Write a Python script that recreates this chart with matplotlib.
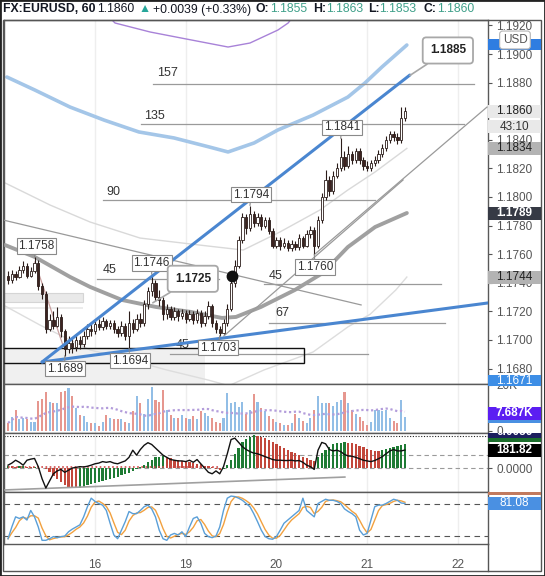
import numpy as np
import pandas as pd
import matplotlib
matplotlib.use("Agg")
import matplotlib.pyplot as plt
from matplotlib.patches import Rectangle
from matplotlib.lines import Line2D
from matplotlib.transforms import Bbox, TransformedBbox, blended_transform_factory

plt.rcParams["font.family"] = ["Liberation Sans", "DejaVu Sans"]
plt.rcParams["font.size"] = 8.5

W, H = 545, 576

# hourly bars, bar 0 = 16th 00:00 (weekend hours removed)
first_bar = -23
first_open = 1.1745
prev_close = 1.1821

closes = [
    1.1742, 1.1746, 1.1744, 1.1749, 1.1752, 1.1745, 1.1748, 1.1754,
    1.1738, 1.1732, 1.1708, 1.1714, 1.1710, 1.1716, 1.1706, 1.1694,
    1.1698, 1.1695, 1.1700, 1.1697, 1.1703, 1.1708, 1.1706, 1.1711,
    1.1709, 1.1713, 1.1710, 1.1712, 1.1708, 1.1705, 1.1710, 1.1703,
    1.1712, 1.1708, 1.1715, 1.1712, 1.1725, 1.1734, 1.1740, 1.1730,
    1.1728, 1.1718, 1.1722, 1.1716, 1.1720, 1.1717, 1.1719, 1.1715,
    1.1718, 1.1714, 1.1719, 1.1712, 1.1717, 1.1724, 1.1712, 1.1708,
    1.1705, 1.1712, 1.1722, 1.1740, 1.1752, 1.1770, 1.1786, 1.1778,
    1.1788, 1.1782, 1.1786, 1.1780, 1.1784, 1.1776, 1.1766, 1.1770,
    1.1766, 1.1768, 1.1764, 1.1767, 1.1765, 1.1771, 1.1766, 1.1774,
    1.1777, 1.1766, 1.1784, 1.1800, 1.1812, 1.1804, 1.1815, 1.1820,
    1.1828, 1.1822, 1.1830, 1.1826, 1.1832, 1.1826, 1.1822, 1.1820,
    1.1824, 1.1826, 1.1830, 1.1834, 1.1840, 1.1844, 1.1842, 1.1840,
    1.1855, 1.1860,
]
highs = [
    1.1748, 1.1749, 1.1748, 1.1752, 1.1755, 1.1754, 1.1751, 1.1758,
    1.1756, 1.1740, 1.1734, 1.1718, 1.1720, 1.1723, 1.1718, 1.1708,
    1.1703, 1.1702, 1.1704, 1.1703, 1.1706, 1.1711, 1.1712, 1.1714,
    1.1715, 1.1716, 1.1715, 1.1714, 1.1714, 1.1710, 1.1713, 1.1712,
    1.1720, 1.1715, 1.1718, 1.1719, 1.1728, 1.1737, 1.1746, 1.1742,
    1.1735, 1.1730, 1.1725, 1.1724, 1.1723, 1.1722, 1.1722, 1.1721,
    1.1721, 1.1720, 1.1722, 1.1721, 1.1720, 1.1727, 1.1725, 1.1714,
    1.1710, 1.1715, 1.1725, 1.1743, 1.1756, 1.1773, 1.1789, 1.1788,
    1.1794, 1.1790, 1.1789, 1.1788, 1.1786, 1.1786, 1.1778, 1.1772,
    1.1772, 1.1771, 1.1770, 1.1770, 1.1769, 1.1774, 1.1773, 1.1777,
    1.1780, 1.1779, 1.1787, 1.1803, 1.1819, 1.1815, 1.1818, 1.1824,
    1.1841, 1.1832, 1.1836, 1.1832, 1.1834, 1.1834, 1.1828, 1.1825,
    1.1826, 1.1829, 1.1833, 1.1837, 1.1843, 1.1846, 1.1846, 1.1845,
    1.1863, 1.1863,
]
lows = [
    1.1739, 1.1740, 1.1742, 1.1743, 1.1747, 1.1743, 1.1744, 1.1747,
    1.1735, 1.1729, 1.1705, 1.1706, 1.1708, 1.1709, 1.1702, 1.1689,
    1.1691, 1.1691, 1.1692, 1.1694, 1.1695, 1.1701, 1.1703, 1.1704,
    1.1707, 1.1707, 1.1708, 1.1708, 1.1705, 1.1702, 1.1703, 1.1700,
    1.1694, 1.1705, 1.1706, 1.1709, 1.1710, 1.1722, 1.1731, 1.1727,
    1.1724, 1.1714, 1.1715, 1.1714, 1.1714, 1.1713, 1.1715, 1.1712,
    1.1713, 1.1711, 1.1712, 1.1709, 1.1710, 1.1715, 1.1709, 1.1705,
    1.1703, 1.1704, 1.1710, 1.1720, 1.1737, 1.1750, 1.1768, 1.1774,
    1.1776, 1.1779, 1.1780, 1.1777, 1.1778, 1.1774, 1.1764, 1.1764,
    1.1763, 1.1764, 1.1762, 1.1762, 1.1763, 1.1763, 1.1764, 1.1765,
    1.1771, 1.1760, 1.1764, 1.1782, 1.1798, 1.1801, 1.1802, 1.1813,
    1.1818, 1.1819, 1.1820, 1.1823, 1.1824, 1.1823, 1.1819, 1.1818,
    1.1818, 1.1822, 1.1824, 1.1828, 1.1832, 1.1838, 1.1839, 1.1837,
    1.1838, 1.1853,
]
volumes_k = [
    3.5, 6, 9, 5, 5.5, 5, 4, 4,
    13, 14, 17, 12.5, 12, 12, 17, 17.5,
    18.5, 15, 10, 7, 6.5, 4, 3.5, 3.5,
    2, 4, 7, 5.5, 5, 5, 5, 4,
    3.5, 8.5, 15, 12, 7.5, 14, 19, 13.5,
    12.5, 18, 9, 7, 5.5, 5.5, 7, 5.5,
    5, 6.5, 5, 8.5, 8, 6.5, 5.5, 4,
    3.5, 5.5, 16.5, 12, 12.5, 10.5, 12.5, 7.5,
    9, 16, 12.5, 10, 8.5, 6.5, 5, 4,
    3.5, 2.5, 2.5, 3.5, 7.5, 5.5, 4.5, 3.5,
    5.5, 9, 15, 12, 12, 12.2, 11, 12.5,
    13.5, 17, 12, 9, 7.5, 6, 4.5, 2.5,
    4, 9, 9, 8.5, 9, 5.5, 4.5, 3.5,
    13.5, 6,
]
macd_hist = [
    22, 18, 14, 18, 22, 14, 7, 11,
    4, 0, -14, -43, -79, -115, -144, -173,
    -191, -202, -205, -202, -191, -176, -166, -155,
    -140, -130, -119, -108, -97, -86, -72, -61,
    -50, -29, -11, 7, 29, 58, 86, 108,
    115, 119, 108, 97, 86, 79, 72, 65,
    58, 50, 43, 36, 25, 18, 7, -7,
    -18, -11, 29, 79, 137, 202, 259, 295,
    317, 331, 328, 317, 302, 284, 266, 245,
    223, 202, 184, 166, 148, 130, 115, 101,
    86, 72, 108, 151, 187, 216, 238, 248,
    256, 259, 256, 248, 238, 223, 209, 194,
    184, 176, 173, 180, 191, 205, 216, 227,
    234, 241,
]
macd_line = [
    29, 50, 79, 58, 29, 79, 90, 97,
    14, -108, -202, -130, -58, -29, -14, -43,
    -22, 0, 7, 14, 11, 18, 29, 43,
    50, 65, 58, 65, 50, 43, 58, 72,
    108, 180, 130, 187, 230, 256, 238, 202,
    166, 130, 108, 86, 79, 72, 72, 65,
    79, 58, 86, 43, 0, -43, -58, -29,
    -58, 14, 144, 288, 302, 259, 216, 187,
    166, 151, 144, 130, 115, 101, 86, 79,
    79, 76, 76, 79, 72, 76, 58, 29,
    14, -14, 180, 259, 245, 187, 173, 180,
    166, 137, 122, 119, 108, 94, 79, 72,
    65, 76, 94, 115, 144, 173, 187, 173,
    173, 181.82,
]
stoch_k = [
    15, 37, 56, 53, 56, 50, 68, 56,
    37, 12, 12, 15, 19, 17, 19, 20,
    28, 33, 37, 41, 56, 75, 91, 85,
    81, 78, 68, 44, 22, 15, 31, 47,
    66, 62, 62, 68, 75, 78, 71, 56,
    31, 15, 12, 22, 25, 22, 28, 19,
    37, 53, 56, 44, 25, 19, 17, 20,
    37, 68, 91, 95, 94, 91, 87, 81,
    75, 62, 47, 31, 19, 15, 14, 19,
    31, 44, 50, 56, 62, 68, 91, 68,
    62, 56, 81, 85, 89, 87, 87, 85,
    81, 71, 66, 62, 56, 31, 22, 25,
    50, 75, 78, 78, 81, 85, 89, 87,
    82, 81.08,
]

day_ticks = [0, 24, 48, 72, 96]
day_labels = ["16", "19", "20", "21", "22"]
price_ticks = [1.168, 1.170, 1.172, 1.174, 1.176, 1.178, 1.180,
               1.182, 1.184, 1.186, 1.188, 1.190, 1.192]

# overlay indicator curves (bar, price)
upper_x = [-23.3, -15.9, -6.6, 2.4, 11.6, 20.9, 30.2, 35.2, 42.1, 48.4, 57.7, 66.9, 71.4, 75.9, 82.5]
upper_y = [1.18839, 1.18748, 1.18629, 1.18538, 1.18455, 1.18413, 1.18350, 1.18315,
           1.18378, 1.18469, 1.18573, 1.18699, 1.18797, 1.18909, 1.19063]
purple_x = [4.0, 5.3, 14.6, 22.8, 35.2, 41.0, 48.4, 51.1, 52.1]
purple_y = [1.19252, 1.19217, 1.19154, 1.19112, 1.19049, 1.19077, 1.19168, 1.19217, 1.19252]
ma_x = [-23.8, -15.9, -6.6, -1.3, 7.1, 16.1, 25.4, 33.6, 37.3, 43.9, 52.9, 60.3, 66.9, 74.1, 82.5]
ma_y = [1.17664, 1.17580, 1.17441, 1.17371, 1.17280, 1.17231, 1.17196, 1.17154,
        1.17161, 1.17231, 1.17350, 1.17469, 1.17650, 1.17790, 1.17888]
inner_x = [-24.3, -11.9, -1.3, 11.9, 29.9, 39.2, 48.9, 59.5, 66.9, 74.1, 82.5]
inner_y = [1.18105, 1.17944, 1.17825, 1.17713, 1.17657, 1.17629, 1.17755, 1.17909,
           1.18049, 1.18175, 1.18340]
lower_x = [-24.3, -14.6, -1.3, 9.3, 19.0, 29.9, 35.4, 44.7, 57.7, 66.9, 72.8, 79.6, 82.5]
lower_y = [1.17245, 1.17105, 1.16930, 1.16860, 1.16790, 1.16720, 1.16680, 1.16790,
           1.16916, 1.17091, 1.17180, 1.17350, 1.17440]

blue_lines = [((-14.0, 1.16846), (83.3, 1.18853)),
              ((-14.0, 1.16846), (104.0, 1.17259))]
gray_lines = [((34.1, 1.17028), (81.5, 1.18119)),
              ((58.2, 1.17601), (103.7, 1.18629)),
              ((-24.3, 1.17839), (70.4, 1.17245))]
wave_line = ((-15.9, 1.17545), (-8.5, 1.16965))

levels = [  # label, x0, x1, price, label x, label price
    ("157", 15.3, 100.3, 1.18790, 16.4, 1.18867),
    ("135", 12.2, 97.6, 1.18510, 13.0, 1.18566),
    ("90", 2.1, 74.1, 1.17979, 2.9, 1.18035),
    ("45", 0.5, 32.8, 1.17427, 2.1, 1.17490),
    ("45", 44.7, 91.5, 1.17392, 46.0, 1.17448),
    ("67", 46.0, 92.6, 1.17119, 47.6, 1.17189),
    ("45", 19.8, 72.2, 1.16902, 21.4, 1.16965),
]
swing_labels = [(-16, "high", 2, 11), (15, "high", 0, 11), (41, "high", 1, 11),
                (65, "high", 1, 11), (58, "low", 1, -13), (33, "low", -2, -12),
                (9, "low", 1, -12), (-8, "low", 0, -13)]
callouts = [(15.3, 1.1726, 40, 24, "1.1725"), (83.3, 1.1885, 38, 25, "1.1885")]
marker_point = (36.2, 1.17448)

fig = plt.figure(figsize=(W / 100, H / 100), dpi=100)


def frac(x0, y0, x1, y1):
    return [x0 / W, 1 - y1 / H, (x1 - x0) / W, (y1 - y0) / H]


ax = fig.add_axes(frac(4, 20, 488, 384))
axv = fig.add_axes(frac(4, 384, 488, 433))
axm = fig.add_axes(frac(4, 433, 488, 492))
axs = fig.add_axes(frac(4, 492, 488, 544))

for a in (ax, axv, axm, axs):
    a.set_xlim(-24.07, 103.97)
    a.set_xticks(day_ticks)
    a.tick_params(axis="x", length=0, labelbottom=False)
    a.grid(axis="x", color="#eeeeee", lw=1)
    a.set_axisbelow(True)
    a.yaxis.tick_right()
    a.tick_params(axis="y", colors="#555555", labelsize=8.5, length=3, width=0.8, pad=3)
    for s in a.spines.values():
        s.set_color("#595959")
        s.set_linewidth(1)

bars = np.arange(first_bar, first_bar + len(closes))
o = np.array([first_open] + closes[:-1])
c = np.array(closes)
up = c >= o

# ---- main panel
ax.set_ylim(1.16692, 1.19238)
ax.set_yticks(price_ticks)
ax.set_yticklabels([f"{p:.4f}" for p in price_ticks])

ax.add_patch(Rectangle((-24.3, 1.16600), 53.4, 0.00344, fc="#f0f0f0", ec="none", zorder=1))
ax.add_patch(Rectangle((-24.3, 1.16839), 79.6, 0.00105, fill=False, ec="#111111", lw=1, zorder=3))
ax.add_patch(Rectangle((-24.3, 1.17266), 21.1, 0.00063, fc="#e9e9e9", ec="#d5d5d5", lw=0.8, zorder=1))
ax.add_patch(Rectangle((-24.3, 1.17217), 21.1, 0.00014, fc="#ececec", ec="none", zorder=1))

ax.plot(purple_x, purple_y, color="#a882d8", lw=1, zorder=2)
ax.plot(upper_x, upper_y, color="#a4c6e8", lw=2.6, zorder=2, solid_capstyle="round")
ax.plot(inner_x, inner_y, color="#d9d9d9", lw=1, zorder=2)
ax.plot(lower_x, lower_y, color="#dddddd", lw=1, zorder=2)
ax.plot(ma_x, ma_y, color="#a0a0a0", lw=2.8, zorder=3, solid_capstyle="round")

for name, x0, x1, p, lx, lp in levels:
    ax.plot([x0, x1], [p, p], color="#9a9a9a", lw=0.9, zorder=2)
    ax.text(lx, lp, name, fontsize=9, color="#333333", va="center", ha="left", zorder=2)

for (x0, y0), (x1, y1) in gray_lines:
    ax.plot([x0, x1], [y0, y1], color="#9a9a9a", lw=0.9, zorder=3)
ax.plot([wave_line[0][0], wave_line[1][0]], [wave_line[0][1], wave_line[1][1]],
        color="#c9a0a0", lw=0.9, zorder=3)

ax.vlines(bars, lows, highs, color="#2b1d1a", lw=0.8, zorder=5)
ax.bar(bars, np.maximum(np.abs(c - o), 0.00006), bottom=np.minimum(o, c), width=0.62,
       color=np.where(up, "white", "#3d2320"), edgecolor="#2b1d1a", linewidth=0.6, zorder=6)

for (x0, y0), (x1, y1) in blue_lines:
    ax.plot([x0, x1], [y0, y1], color="#4a86d0", lw=2.2, zorder=7, solid_capstyle="round")

ax.plot(*marker_point, "o", color="#111111", ms=7.5, zorder=8)

for bar, kind, dx, dy in swing_labels:
    k = bar - first_bar
    price = highs[k] if kind == "high" else lows[k]
    ax.annotate(f"{price:.4f}", (bar, price), xytext=(dx, dy), textcoords="offset pixels",
                ha="center", va="center", fontsize=8.5, color="#333333", zorder=12,
                bbox=dict(boxstyle="square,pad=0.15", fc="white", ec="#8a8a8a", lw=0.8),
                arrowprops=dict(arrowstyle="-", color="#8a8a8a", lw=0.8, shrinkA=0, shrinkB=0))

for bx, by, dx, dy, txt in callouts:
    ax.annotate(txt, (bx, by), xytext=(dx, dy), textcoords="offset pixels",
                ha="center", va="center", fontsize=8.5, fontweight="bold", color="#222222",
                zorder=12,
                bbox=dict(boxstyle="round,pad=0.6,rounding_size=0.3", fc="white", ec="#a8a8a8", lw=1.3),
                arrowprops=dict(arrowstyle="-", color="#a8a8a8", lw=1.2, shrinkA=0, shrinkB=0))

# ---- volume
vol = np.array(volumes_k)
axv.bar(bars, vol, width=0.55, color=np.where(up, "#92bee6", "#e6978f"), zorder=2)
axv.plot(bars, pd.Series(vol).rolling(20, min_periods=1).mean(), color="#b39ddb",
         lw=1.6, linestyle=(0, (1, 1.2)), zorder=3)
axv.set_ylim(-0.87, 20.43)
axv.set_yticks([0, 20])
axv.set_yticklabels(["0", "20K"])

# ---- MACD
hist = np.array(macd_hist)
rising = np.concatenate([[True], np.diff(hist) >= 0])
axm.bar(bars, hist, width=0.6, color=np.where(rising, "#1e7b34", "#c2473b"), zorder=2)
axm.plot(bars, macd_line, color="#111111", lw=1, zorder=4)
axm.hlines(8, -23, 33, color="#d04a4a", lw=1.2, linestyles=(0, (1, 1.5)), zorder=3)
axm.plot([-24.3, 66.1], [-222, -91], color="#a0a0a0", lw=1.2, zorder=3)
axm.axhline(0, color="#9a9a9a", lw=0.8, dashes=(4, 3), zorder=1)
axm.axhline(131, color="#9a9a9a", lw=0.8, dashes=(4, 3), zorder=1)
axm.axhline(326, color="#222222", lw=0.8, dashes=(1, 1.5), zorder=1)
axm.set_ylim(-242, 354)
axm.set_yticks([0])
axm.set_yticklabels(["0.0000"])

# ---- stochastic
k_line = pd.Series(stoch_k)
axs.plot(bars, k_line.rolling(3, min_periods=1).mean(), color="#f2a13f", lw=1, zorder=3)
axs.plot(bars, k_line, color="#5a9fd8", lw=1, zorder=4)
for lvl in (80, 20):
    axs.axhline(lvl, color="#555555", lw=0.8, dashes=(5, 4), zorder=1)
axs.set_ylim(5.1, 102.6)
axs.set_yticks([])
axs.set_xticklabels(day_labels)
axs.tick_params(axis="x", labelbottom=True, pad=11, labelcolor="#555555", labelsize=8.5)


# ---- right-axis value tags
def strip_clip(y_top, y_bot):
    return TransformedBbox(Bbox.from_extents(488 / W, 1 - y_bot / H, 541 / W, 1 - y_top / H),
                           fig.transFigure)


def tag(a, value, text, fc, tc, clip, bold=False, h=13):
    tr = blended_transform_factory(a.transAxes, a.transData)
    y0, y1 = a.get_ylim()
    pos = a.get_position()
    dv = (y1 - y0) / (pos.height * H) * h
    wa = 53 / (pos.width * W)
    r = Rectangle((1.0, value - dv / 2), wa, dv, transform=tr, fc=fc, ec="none", zorder=20)
    fig.add_artist(r)
    r.set_clip_box(clip)
    t = fig.text(1.0 + wa / 2, value, text, transform=tr, ha="center", va="center", color=tc,
                 fontsize=8.5, fontweight="bold" if bold else "normal", zorder=21)
    t.set_clip_box(clip)


clip_main = strip_clip(20, 386)
tag(ax, 1.19070, "", "#2f7de1", "white", clip_main, h=11)
tag(ax, closes[-1], f"{closes[-1]:.4f}", "#e9e9e9", "#222222", clip_main)
tag(ax, 1.18490, "43:10", "#e9e9e9", "#333333", clip_main)
tag(ax, inner_y[-1], "1.1834", "#b3b3b3", "#222222", clip_main)
tag(ax, ma_y[-1], "1.1789", "#363a45", "white", clip_main, bold=True)
tag(ax, lower_y[-1], "1.1744", "#b3b3b3", "#222222", clip_main)
tag(ax, 1.1671, "1.1671", "#3d8ee6", "white", clip_main)
fig.text(515 / W, 1 - 40 / H, "USD", ha="center", va="center", fontsize=8.5, color="#555555",
         zorder=22, bbox=dict(boxstyle="round,pad=0.25", fc="white", ec="#b5b5b5", lw=0.8))

clip_vol = strip_clip(384, 433)
tag(axv, 6.1, "", "#4a90e2", "white", clip_vol)
tag(axv, 7.687, "7.687K", "#5b1ef2", "white", clip_vol, bold=True)

clip_macd = strip_clip(433, 492)
tag(axm, 328, "", "#1b6e2c", "white", clip_macd)
tag(axm, 369, "0.0056", "#1c1f5e", "white", clip_macd, bold=True)
tag(axm, macd_line[-1], f"{macd_line[-1]:.2f}", "#000000", "white", clip_macd, bold=True)

clip_st = strip_clip(492, 544)
tag(axs, 109.2, "", "#c27a5e", "white", clip_st)
tag(axs, stoch_k[-1], f"{stoch_k[-1]:.2f}", "#4a90e2", "white", clip_st)

# ---- frame
fig.add_artist(Rectangle((3 / W, 1 - 571 / H), 538 / W, 551 / H, transform=fig.transFigure,
                         fill=False, ec="#555555", lw=1))
fig.add_artist(Line2D([488 / W, 488 / W], [1 - 571 / H, 1 - 544 / H], transform=fig.transFigure,
                      color="#555555", lw=1))
fig.add_artist(Rectangle((0, 0), 1, 1, transform=fig.transFigure, fill=False, ec="#222222", lw=2))

# ---- header
chg = closes[-1] - prev_close
title_parts = [
    (3, "FX:EURUSD, 60", "#131722", "bold"),
    (97, f"{closes[-1]:.4f}", "#131722", "normal"),
    (139, "\u25B2", "#26a69a", "normal"),
    (153, f"+{chg:.4f} (+{chg / prev_close * 100:.2f}%)", "#131722", "normal"),
    (256, "O:", "#131722", "bold"),
    (270, f"{o[-1]:.4f}", "#3fa08a", "normal"),
    (313, "H:", "#131722", "bold"),
    (326, f"{highs[-1]:.4f}", "#3fa08a", "normal"),
    (368, "L:", "#131722", "bold"),
    (379, f"{lows[-1]:.4f}", "#3fa08a", "normal"),
    (424, "C:", "#131722", "bold"),
    (437, f"{closes[-1]:.4f}", "#3fa08a", "normal"),
]
for x, s, col, wt in title_parts:
    fig.text(x / W, 1 - 9.5 / H, s, ha="left", va="center", fontsize=8.8, color=col, fontweight=wt)

fig.savefig("out.png", dpi=100)
